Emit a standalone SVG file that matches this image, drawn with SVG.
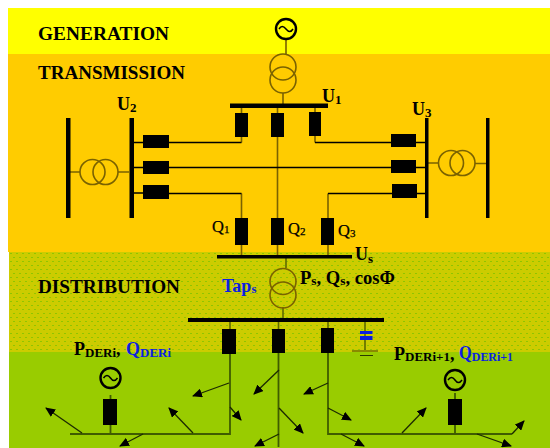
<svg xmlns="http://www.w3.org/2000/svg" width="550" height="448" viewBox="0 0 550 448">
<defs>
<pattern id="dots" width="6" height="8" patternUnits="userSpaceOnUse">
<rect width="6" height="8" fill="#cccc00"/>
<rect x="1" y="1" width="2" height="1" fill="#8fc400"/>
<rect x="4" y="5" width="2" height="1" fill="#8fc400"/>
</pattern>
<marker id="ah" markerUnits="userSpaceOnUse" markerWidth="10" markerHeight="9" refX="9" refY="4.500" orient="auto">
<path d="M0 0L10 4.500L0 9Z" fill="#000"/>
</marker>
</defs>
<style>
.t{font-family:"Liberation Serif","Times New Roman",serif;font-weight:bold;fill:#000}
.h{font-size:18px}
.l{font-size:18px}
.q{font-size:16.500px;font-weight:normal;stroke:#000;stroke-width:.25}
.b{fill:#0b1fe0}
.s{font-size:13px}
.q .s{font-size:11px}
.br{fill:#000}
.w{stroke:#000;stroke-width:1.3;fill:none}
.o{stroke:#7a6200;stroke-width:1.6;fill:none}
.g{stroke:#3f5c00;stroke-width:1.8;fill:none}
.x{stroke:#5f6a00;stroke-width:1.6;fill:none}
.a{stroke:#1c2a00;stroke-width:1.3;fill:none;marker-end:url(#ah)}
.gen{stroke:#000;stroke-width:2.4;fill:none}
</style>
<g id="bands">
<rect x="8" y="8" width="542" height="46" fill="#ffff00"/>
<rect x="8" y="54" width="542" height="198" fill="#ffcc00"/>
<rect x="9" y="252" width="541" height="101" fill="url(#dots)"/>
<rect x="9" y="352" width="541" height="96" fill="#99cc00"/>
</g>
<g id="connectors">
<path class="o" d="M286 40V54M283 93V104M241.500 107V113M277.500 107V113M315 107V112M241.500 137V142.500M241.500 193.500V218M241.500 245V255M277.500 137V218M277.500 245V255M328 193.500V218M328 245V255M315 136V142.500"/>
<path class="w" d="M134 142.500H143M169 142.500H241.500M134 167.500H143M169 167.500H391M134 193H143M169 193.500H241.500M315 142.500H391M416 142.500H425M416 167.500H425M417 193.500H425M328 193.500H392"/>
<path class="o" d="M70 172H80M118 172H129M428 163H438M475 163.500H486"/>
<path class="x" d="M286 258V268M283 307V318M230 322V329M278.500 322V329M328 322V329M365 322V351"/>
<path class="g" d="M230 354V434H70M278.500 353V447M328 353V434H512M110.500 395V399M110.500 425V434M455 393V399M455 425V434"/>
<path class="a" d="M82 433L46 408"/>
<path class="a" d="M193 433L169 408"/>
<path class="a" d="M143 434L120 446"/>
<path class="a" d="M229 383L193 396"/>
<path class="a" d="M230 407L241 420"/>
<path class="a" d="M279 370L254 394"/>
<path class="a" d="M279 408L303 433"/>
<path class="a" d="M279 434L255 446"/>
<path class="a" d="M328 383L304 394"/>
<path class="a" d="M328 408L351 420"/>
<path class="a" d="M341 434L364 446"/>
<path class="a" d="M402 433L426 408"/>
<path class="a" d="M477 434L511 446"/>
<path class="a" d="M512 434L524 421"/>
</g>
<g id="generator-top">
<circle class="gen" cx="286" cy="29" r="10"/>
<path d="M279 29Q282 24 286 29T293 29" stroke="#000" stroke-width="1.5" fill="none"/>
</g>
<g id="transformer-top"><circle class="o" cx="283" cy="67" r="13"/><circle class="o" cx="283" cy="80" r="13"/></g>
<g id="bus-u1"><rect x="230" y="103.500" width="98" height="4.500" class="br"/></g>
<g id="bus-u2"><rect x="129.500" y="118" width="4.500" height="100" class="br"/></g>
<g id="bus-left"><rect x="66" y="118" width="4.500" height="100" class="br"/></g>
<g id="bus-u3"><rect x="425" y="118" width="3.500" height="100" class="br"/></g>
<g id="bus-right"><rect x="486" y="118" width="3.500" height="100" class="br"/></g>
<g id="bus-us"><rect x="217" y="255" width="135" height="3.500" class="br"/></g>
<g id="bus-dist"><rect x="188" y="318" width="196" height="4" class="br"/></g>
<g id="transformer-left"><circle class="o" cx="92.500" cy="172" r="12.500"/><circle class="o" cx="105.500" cy="172" r="12.500"/></g>
<g id="transformer-right"><circle class="o" cx="451" cy="163" r="12.500"/><circle class="o" cx="462.500" cy="163" r="12.500"/></g>
<g id="transformer-s"><circle class="o" cx="283" cy="281.500" r="13"/><circle class="o" cx="283" cy="295" r="13"/></g>
<g id="breakers-u1"><rect class="br" x="235" y="113" width="13" height="24"/><rect class="br" x="271" y="113" width="13" height="24"/><rect class="br" x="309" y="112" width="12" height="24"/></g>
<g id="breakers-u2"><rect class="br" x="143" y="135" width="26" height="13"/><rect class="br" x="143" y="161" width="26" height="13"/><rect class="br" x="143" y="185" width="26" height="14"/></g>
<g id="breakers-u3"><rect class="br" x="391" y="134" width="25" height="13"/><rect class="br" x="391" y="160" width="25" height="13"/><rect class="br" x="392" y="184" width="25" height="14"/></g>
<g id="breakers-q"><rect class="br" x="235" y="218" width="13" height="27"/><rect class="br" x="271" y="218" width="13" height="27"/><rect class="br" x="321" y="218" width="13" height="27"/></g>
<g id="breakers-dist"><rect class="br" x="222" y="329" width="14" height="25"/><rect class="br" x="272" y="329" width="13" height="24"/><rect class="br" x="321" y="328" width="13" height="25"/></g>
<g id="capacitor">
<rect x="360" y="331" width="12.500" height="3" fill="#0b1fe0"/><rect x="360" y="336" width="12.500" height="4" fill="#0b1fe0"/>
<path d="M352 351H378" stroke="#8a8a00" stroke-width="2" fill="none"/><path d="M360 355.500H373" stroke="#2a3a00" stroke-width="1" fill="none"/>
</g>
<g id="generator-i">
<circle class="gen" cx="110.500" cy="378" r="10"/>
<path d="M103.500 378Q107 373 110.500 378T117.500 378" stroke="#000" stroke-width="1.5" fill="none"/>
<rect class="br" x="103" y="399" width="14" height="26"/>
</g>
<g id="generator-i1">
<circle class="gen" cx="455" cy="380" r="10"/>
<path d="M448 380Q451.500 375 455 380T462 380" stroke="#000" stroke-width="1.5" fill="none"/>
<rect class="br" x="448" y="399" width="14" height="26"/>
</g>
<g id="labels">
<text class="t h" x="38" y="40" textLength="131" lengthAdjust="spacingAndGlyphs">GENERATION</text>
<text class="t h" x="38" y="79" textLength="147" lengthAdjust="spacingAndGlyphs">TRANSMISSION</text>
<text class="t h" x="38" y="293" textLength="142" lengthAdjust="spacingAndGlyphs">DISTRIBUTION</text>
<text class="t l" x="117" y="110">U<tspan class="s" dy="2">2</tspan></text>
<text class="t l" x="322" y="102">U<tspan class="s" dy="2">1</tspan></text>
<text class="t l" x="412" y="115">U<tspan class="s" dy="2">3</tspan></text>
<text class="t q" x="212" y="232">Q<tspan class="s" dy="1">1</tspan></text>
<text class="t q" x="288" y="234">Q<tspan class="s" dy="1">2</tspan></text>
<text class="t q" x="338" y="236">Q<tspan class="s" dy="1">3</tspan></text>
<text class="t l" x="355" y="260">U<tspan class="s" dy="3">s</tspan></text>
<text class="t l b" x="222" y="292">Tap<tspan class="s" dy="1">s</tspan></text>
<text class="t l" x="300" y="284" textLength="95" lengthAdjust="spacingAndGlyphs">P<tspan class="s" dy="1">s</tspan><tspan dy="-1">, Q</tspan><tspan class="s" dy="1">s</tspan><tspan dy="-1">, cosΦ</tspan></text>
<text class="t l" x="74" y="355">P<tspan class="s" dy="2">DERi</tspan><tspan dy="-2">,</tspan></text>
<text class="t l b" x="126" y="355">Q<tspan class="s" dy="2">DERi</tspan></text>
<text class="t l" x="394" y="360">P<tspan class="s" dy="1">DERi+1</tspan><tspan dy="-1">,</tspan></text>
<text class="t l b" x="459" y="359" textLength="54" lengthAdjust="spacingAndGlyphs">Q<tspan class="s" dy="2">DERi+1</tspan></text>
</g>
</svg>
